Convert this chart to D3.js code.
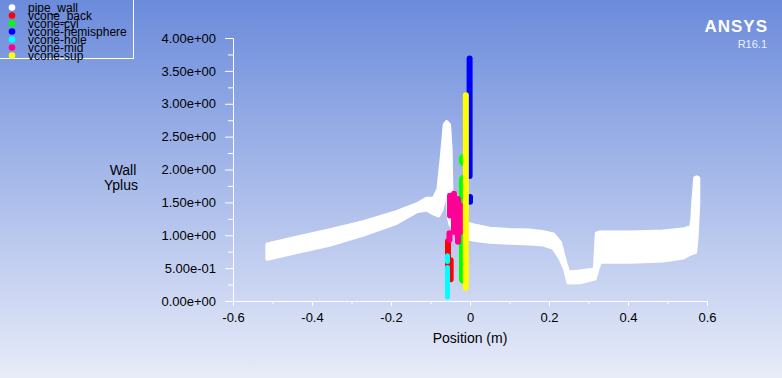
<!DOCTYPE html>
<html>
<head>
<meta charset="utf-8">
<script src="https://cdn.jsdelivr.net/npm/d3@7"></script>
<style>
  html, body { margin: 0; padding: 0; overflow: hidden; }
  svg { display: block; font-family: "Liberation Sans", Arial, sans-serif; }
</style>
</head>
<body>
<div id="chart"></div>
<script>
// legend entries (draw order)
var seriesNames = ["pipe_wall", "vcone_back", "vcone-cyl", "vcone-hemisphere", "vcone-hole", "vcone-mid", "vcone-sup"];
var seriesColors = ["#ffffff", "#ff0000", "#00ff00", "#0000ff", "#00ffff", "#ff0096", "#ffff00"];

// pipe_wall band: [position, lower yplus, upper yplus]
var pipeWall = [
  [-0.513, 0.642, 0.859], [-0.439, 0.743, 0.961], [-0.354, 0.859, 1.077],
  [-0.270, 1.011, 1.199], [-0.186, 1.189, 1.351], [-0.135, 1.366, 1.468],
  [-0.110, 1.392, 1.554], [-0.092, 1.331, 1.554], [-0.080, 1.300, 1.696],
  [-0.072, 1.392, 2.152], [-0.064, 1.600, 2.680], [-0.059, 1.700, 2.720],
  [-0.053, 1.250, 2.680], [-0.049, 1.160, 2.300], [-0.046, 1.140, 1.300],
  [-0.030, 1.060, 1.220], [-0.010, 0.960, 1.180], [0.010, 0.930, 1.150],
  [0.050, 0.900, 1.100], [0.100, 0.885, 1.080], [0.152, 0.875, 1.072],
  [0.186, 0.859, 1.047], [0.211, 0.809, 1.011], [0.228, 0.657, 0.885],
  [0.241, 0.479, 0.586], [0.249, 0.281, 0.433], [0.278, 0.286, 0.449],
  [0.316, 0.342, 0.479], [0.321, 0.449, 1.027], [0.329, 0.601, 1.042],
  [0.405, 0.596, 1.042], [0.489, 0.616, 1.057], [0.540, 0.662, 1.087],
  [0.551, 0.700, 1.110], [0.559, 0.720, 1.100], [0.563, 0.730, 1.250],
  [0.565, 0.740, 1.490], [0.570, 0.740, 1.870], [0.574, 0.990, 1.880],
  [0.578, 1.500, 1.870]
];

// vcone point clusters: [position, lower yplus, upper yplus]
var vconeBack = [[-0.0557, 0.40, 0.91], [-0.049, 0.33, 0.62]];
var vconeCyl = [[-0.0165, 0.33, 1.85], [-0.0165, 2.12, 2.17]];
var vconeHemisphere = [[-0.001, 1.90, 3.69], [0.000, 1.51, 1.58]];
var vconeHole = [[-0.057, 0.60, 0.69], [-0.057, 0.06, 0.51]];
var vconeMid = [[-0.0506, 1.30, 1.60], [-0.0405, 1.05, 1.63], [-0.0304, 0.90, 1.55],
                [-0.0228, 1.05, 1.45], [-0.052, 0.93, 1.03]];
var vconeSup = [[-0.0105, 0.20, 3.13]];

var clusterWidths = [6, 9, 6, 5, 6, 6];

// axes
var xTicks = [-0.6, -0.4, -0.2, 0, 0.2, 0.4, 0.6];
var xTickLabels = ["-0.6", "-0.4", "-0.2", "0", "0.2", "0.4", "0.6"];
var xMinor = [-0.5, -0.3, -0.1, 0.1, 0.3, 0.5];
var yTicks = [0, 0.5, 1, 1.5, 2, 2.5, 3, 3.5, 4];
var yTickLabels = ["0.00e+00", "5.00e-01", "1.00e+00", "1.50e+00", "2.00e+00",
                   "2.50e+00", "3.00e+00", "3.50e+00", "4.00e+00"];
var yMinor = [0.25, 0.75, 1.25, 1.75, 2.25, 2.75, 3.25, 3.75];

var width = 782, height = 378;

var svg = d3.select("#chart").append("svg")
    .attr("width", width)
    .attr("height", height);

// background gradient
var grad = svg.append("defs").append("linearGradient")
    .attr("id", "bg").attr("x1", 0).attr("y1", 0).attr("x2", 0).attr("y2", 1);
grad.append("stop").attr("offset", "0%").attr("stop-color", "#6b8bdb");
grad.append("stop").attr("offset", "100%").attr("stop-color", "#e8ecf9");
svg.append("rect").attr("width", width).attr("height", height).attr("fill", "url(#bg)");

var x = d3.scaleLinear().domain([-0.6, 0.6]).range([233, 707]);
var y = d3.scaleLinear().domain([0, 4]).range([301, 38]);

/* AXES */
svg.append("g")
    .attr("class", "axis")
    .attr("transform", "translate(0," + y(0) + ")")
    .call(d3.axisBottom(x).tickValues(xTicks).tickSize(5).tickSizeOuter(0).tickPadding(7)
        .tickFormat(function(d, i) { return xTickLabels[i]; }));
svg.append("g")
    .attr("class", "axis")
    .attr("transform", "translate(0," + y(0) + ")")
    .call(d3.axisBottom(x).tickValues(xMinor).tickSize(3).tickSizeOuter(0).tickFormat(""));

svg.append("g")
    .attr("class", "axis")
    .attr("transform", "translate(" + x(-0.6) + ",0)")
    .call(d3.axisLeft(y).tickValues(yTicks).tickSize(8).tickSizeOuter(0).tickPadding(9)
        .tickFormat(function(d, i) { return yTickLabels[i]; }));
svg.append("g")
    .attr("class", "axis")
    .attr("transform", "translate(" + x(-0.6) + ",0)")
    .call(d3.axisLeft(y).tickValues(yMinor).tickSize(5).tickSizeOuter(0).tickFormat(""));

svg.selectAll(".axis path, .axis line").attr("stroke", "#ffffff");
svg.selectAll(".axis text")
    .attr("fill", "#000")
    .style("font-size", "13px")
    .style("font-family", "Liberation Sans, Arial, sans-serif");

svg.append("text")
    .attr("x", 470).attr("y", 343)
    .attr("text-anchor", "middle")
    .style("font-size", "14px")
    .text("Position (m)");

var ylab = svg.append("text")
    .attr("text-anchor", "middle")
    .style("font-size", "14px");
ylab.append("tspan").attr("x", 123).attr("y", 175).text("Wall");
ylab.append("tspan").attr("x", 121).attr("y", 190).text("Yplus");

/* DATA */
var area = d3.area()
    .x(function(d) { return x(d[0]); })
    .y0(function(d) { return y(d[1]); })
    .y1(function(d) { return y(d[2]); });

svg.append("path")
    .datum(pipeWall)
    .attr("d", area)
    .attr("fill", seriesColors[0])
    .attr("stroke", seriesColors[0])
    .attr("stroke-width", 4)
    .attr("stroke-linejoin", "round");

var clusters = [vconeBack, vconeCyl, vconeHemisphere, vconeHole, vconeMid, vconeSup];
clusters.forEach(function(data, k) {
    var w = clusterWidths[k];
    svg.append("g")
        .attr("fill", seriesColors[k + 1])
        .selectAll("rect")
        .data(data)
        .enter().append("rect")
            .attr("x", function(d) { return x(d[0]) - w / 2; })
            .attr("y", function(d) { return y(d[2]) - w / 2; })
            .attr("width", w)
            .attr("height", function(d) { return y(d[1]) - y(d[2]) + w; })
            .attr("rx", w / 2);
});

/* LEGEND */
svg.append("rect")
    .attr("x", -1).attr("y", -1)
    .attr("width", 134.5).attr("height", 59.5)
    .attr("fill", "none")
    .attr("stroke", "#ffffff");

var legend = svg.append("g")
    .selectAll("g")
    .data(seriesNames)
    .enter().append("g")
        .attr("transform", function(d, i) { return "translate(0," + (7.5 + i * 8) + ")"; });

legend.append("circle")
    .attr("cx", 12).attr("cy", 0).attr("r", 3.3)
    .attr("fill", function(d, i) { return seriesColors[i]; });

legend.append("text")
    .attr("x", 28).attr("y", 4.5)
    .style("font-size", "12px")
    .attr("fill", "#000")
    .text(function(d) { return d; });

/* LOGO */
svg.append("text")
    .attr("x", 768).attr("y", 32)
    .attr("text-anchor", "end")
    .attr("fill", "#ffffff")
    .attr("font-size", 17)
    .attr("font-weight", "bold")
    .attr("letter-spacing", 1)
    .text("ANSYS");
svg.append("text")
    .attr("x", 767).attr("y", 48)
    .attr("text-anchor", "end")
    .attr("fill", "#eef0ff")
    .attr("font-size", 11)
    .text("R16.1");
</script>
</body>
</html>
